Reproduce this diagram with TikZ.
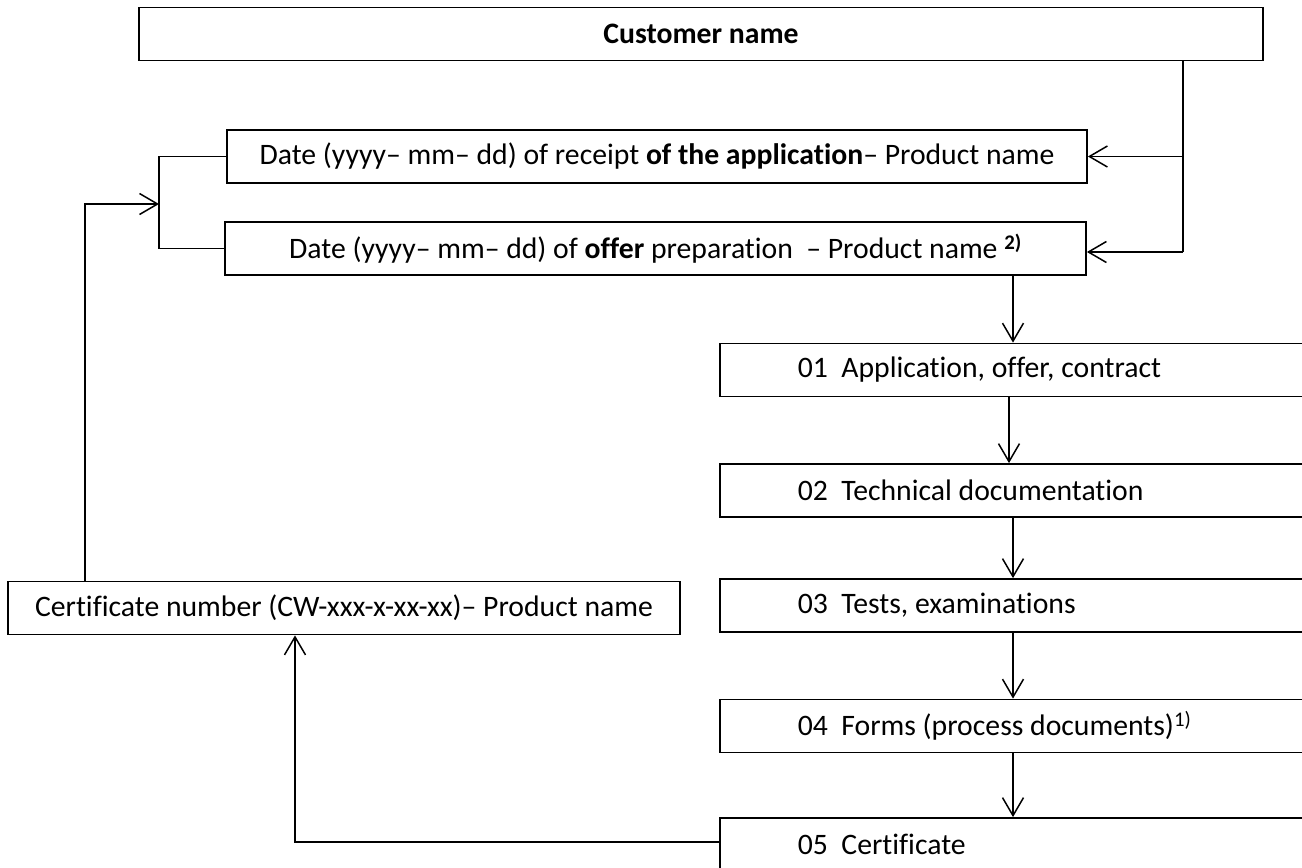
\documentclass[tikz,border=0pt]{standalone}
\usepackage{fontspec}
\setmainfont{Carlito}[Ligatures={NoCommon}]
\usetikzlibrary{arrows.meta}
\begin{document}
\begin{tikzpicture}[x=1pt,y=-1pt,
  txt/.style={font=\fontsize{29.7}{34}\selectfont},
  box/.style={draw,line width=1.8pt,minimum height=53pt,inner sep=0pt,txt},
  stepbox/.style={box,anchor=west,inner xsep=78pt},
  conn/.style={line width=1.5pt},
  arr/.style={conn,-{Straight Barb[length=18pt,width=21pt,line width=1.5pt]}}
]
\newcommand{\steptext}[1]{\makebox[560pt][l]{#1}}
\fill[white] (0,0) rectangle (1302,868);
\clip (0,0) rectangle (1302,868);

% customer and the two dated records
\node[box,minimum width=1124pt,font=\fontsize{29.7}{34}\selectfont\bfseries] (cust) at (701,34) {Customer name};
\node[box,minimum width=860pt] (b1) at (657,156.5) {Date (yyyy– mm– dd) of receipt \textbf{of the application}– Product name};
\node[box,minimum width=861pt] (b2) at (655.5,248.5) {Date (yyyy– mm– dd) of \textbf{offer} preparation\ \ – Product name \textsuperscript{\textbf{2)}}};

% process folders
\node[stepbox] (s1) at (719,370) {\steptext{01\ \ Application, offer, contract}};
\node[stepbox] (s2) at (719,490.5) {\steptext{02\ \ Technical documentation}};
\node[stepbox] (s3) at (719,605.5) {\steptext{03\ \ Tests, examinations}};
\node[stepbox] (s4) at (719,726) {\steptext{04\ \ Forms (process documents)\textsuperscript{1)}}};
\node[stepbox] (s5) at (719,844.5) {\steptext{05\ \ Certificate}};

% certificate record
\node[box,minimum width=672pt] (cert) at (344,608) {Certificate number (CW-xxx-x-xx-xx)– Product name};

% helper points
\coordinate (trunk) at (1183,252);
\coordinate (down) at (1013,0);
\coordinate (downa) at (1009,0);
\coordinate (brk) at (159,204);
\coordinate (lft) at (85,204);
\coordinate (ret) at (295,842);

% customer to dated records
\draw[conn] (cust.south -| trunk) -- (trunk);
\draw[arr] (trunk |- b1.east) -- (b1.east);
\draw[arr] (trunk) -- (trunk -| b2.east);

% bracket joining the two records
\draw[conn] (b1.west) -- (b1.west -| brk) -- (b2.west -| brk) -- (b2.west);

% flow through the process folders
\draw[arr] (b2.south -| down) -- (s1.north -| down);
\draw[arr] (s1.south -| downa) -- (s2.north -| downa);
\draw[arr] (s2.south -| down) -- (s3.north -| down);
\draw[arr] (s3.south -| down) -- (s4.north -| down);
\draw[arr] (s4.south -| down) -- (s5.north -| down);

% certificate back to the records
\draw[arr] (s5.west |- ret) -- (ret) -- (ret |- cert.south);
\draw[arr] (cert.north -| lft) -- (lft) -- (brk);
\end{tikzpicture}
\end{document}
